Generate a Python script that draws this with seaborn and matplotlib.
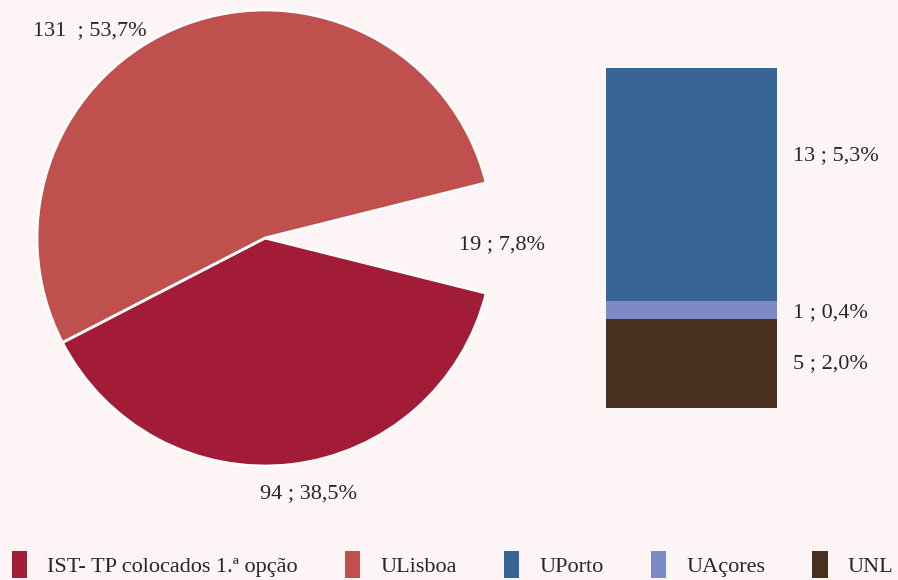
import matplotlib
matplotlib.use("Agg")
import matplotlib.pyplot as plt
from matplotlib.patches import Patch
import seaborn as sns
import pandas as pd

# Pie: first-option placements, ULisboa, and the "other" group shown in the bar
pie_labels = ["IST- TP colocados 1.ª opção", "ULisboa", "Outras"]
pie_values = [94, 131, 19]
pie_texts = ["94 ; 38,5%", "131  ; 53,7%", "19 ; 7,8%"]

# Bar: breakdown of the "other" group
bar_labels = ["UPorto", "UAçores", "UNL"]
bar_values = [13, 1, 5]
bar_texts = ["13 ; 5,3%", "1 ; 0,4%", "5 ; 2,0%"]

colors = {
    "IST- TP colocados 1.ª opção": "#A31C37",
    "ULisboa": "#C0504D",
    "UPorto": "#376596",
    "UAçores": "#7C8BC6",
    "UNL": "#4A3020",
}
bg = "#FDF5F5"

sns.set_theme(style="white")
plt.rcParams["font.family"] = ["Liberation Serif", "DejaVu Serif"]

fig = plt.figure(figsize=(8.98, 5.80), dpi=100, facecolor=bg)

# ---- pie ----
ax_pie = fig.add_axes([37 / 898, (580 - 466) / 580, 456 / 898, 456 / 580])
ax_pie.set_facecolor(bg)
gap_half = 360 * pie_values[2] / sum(pie_values) / 2
wedges, _ = ax_pie.pie(
    pie_values,
    startangle=-gap_half,
    counterclock=False,
    colors=[colors[pie_labels[0]], colors[pie_labels[1]], bg],
    wedgeprops=dict(edgecolor="white", linewidth=2),
)
wedges[2].set_visible(False)
ax_pie.set_xlim(-1, 1)
ax_pie.set_ylim(-1, 1)
ax_pie.set_aspect("equal")
ax_pie.axis("off")

fs = 16
ax_pie.text(0.19, -1.12, pie_texts[0], ha="center", va="center", fontsize=fs)
ax_pie.text(-0.77, 0.91, pie_texts[1], ha="center", va="center", fontsize=fs)
ax_pie.text(1.04, -0.03, pie_texts[2], ha="center", va="center", fontsize=fs)

# ---- stacked bar ----
ax_bar = fig.add_axes([606 / 898, (580 - 408) / 580, 171 / 898, 340 / 580])
ax_bar.set_facecolor(bg)
stack_order = ["UNL", "UAçores", "UPorto"]
vals = dict(zip(bar_labels, bar_values))
cum = []
total = 0
for name in stack_order:
    total += vals[name]
    cum.append((name, total))
# draw tallest cumulative layer first so lower segments sit on top
for name, top in reversed(cum):
    df = pd.DataFrame({"grupo": ["Outras"], "valor": [top]})
    sns.barplot(data=df, x="grupo", y="valor", color=colors[name],
                saturation=1, width=1.0, ax=ax_bar, linewidth=0)
ax_bar.set_xlim(-0.5, 0.5)
ax_bar.set_ylim(0, sum(bar_values))
ax_bar.axis("off")

# value labels to the right of the bar
texts = dict(zip(bar_labels, bar_texts))
label_y = {"UNL": 2.45, "UAçores": 5.3, "UPorto": 14.1}
for name, _ in cum:
    ax_bar.text(1.095, label_y[name], texts[name], ha="left", va="center",
                fontsize=fs, transform=ax_bar.get_yaxis_transform())

# ---- legend ----
legend_names = ["IST- TP colocados 1.ª opção", "ULisboa", "UPorto", "UAçores", "UNL"]
handles = [Patch(facecolor=colors[n], edgecolor="none", label=n) for n in legend_names]
fig.legend(handles=handles, loc="lower left", ncol=5, frameon=False,
           bbox_to_anchor=(0.003, -0.012, 1.002, 0.06), mode="expand",
           fontsize=fs, handlelength=0.7, handleheight=1.5, handletextpad=0.9,
           borderaxespad=0.0)

fig.savefig("out.png", dpi=100, facecolor=bg)
